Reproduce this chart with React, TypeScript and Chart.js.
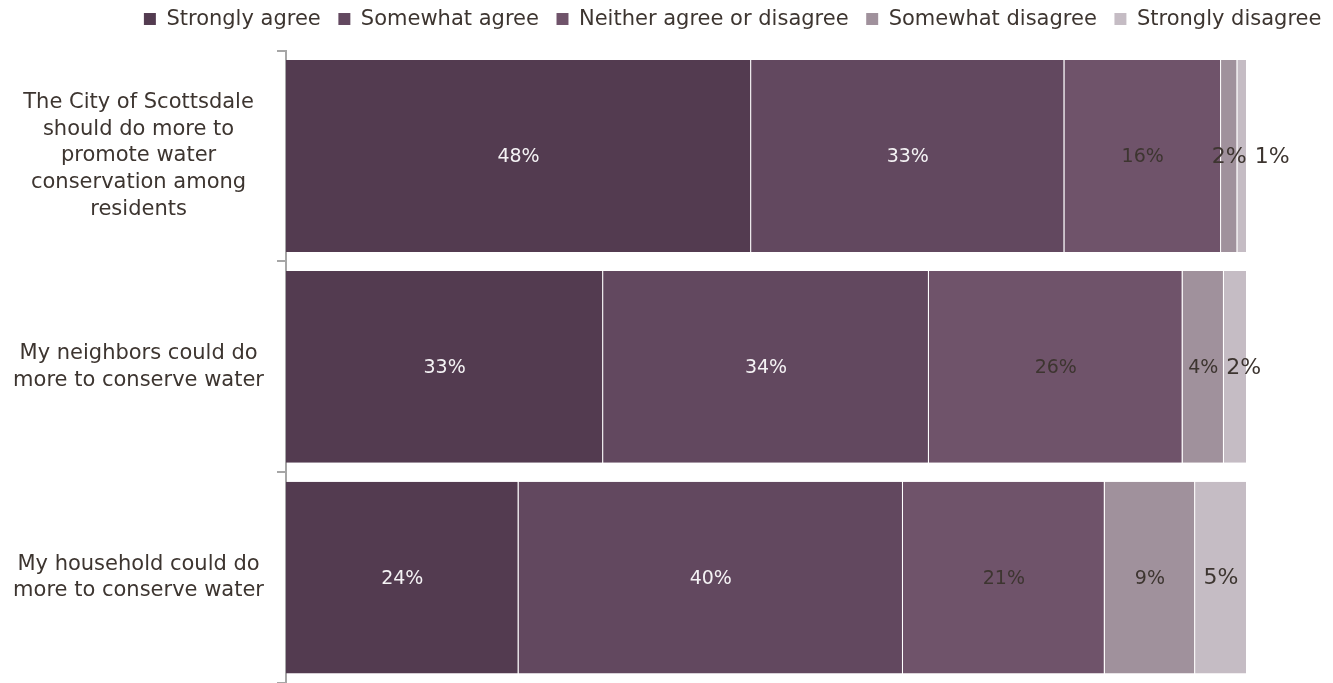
import React, { useEffect, useRef } from "react";
import { Chart, registerables } from "chart.js";

Chart.register(...registerables);

const categories: string[][] = [
  ["The City of Scottsdale", "should do more to", "promote water", "conservation among", "residents"],
  ["My neighbors could do", "more to conserve water"],
  ["My household could do", "more to conserve water"],
];

const seriesNames = [
  "Strongly agree",
  "Somewhat agree",
  "Neither agree or disagree",
  "Somewhat disagree",
  "Strongly disagree",
];

const stronglyAgree = [48.4, 33.0, 24.2];
const somewhatAgree = [32.6, 33.9, 40.0];
const neitherAgree = [16.3, 26.4, 21.0];
const somewhatDisagree = [1.7, 4.3, 9.4];
const stronglyDisagree = [1.0, 2.4, 5.4];

const seriesColors = ["#533b50", "#62485f", "#6f536a", "#a0919c", "#c5bcc4"];
const labelColors = ["#f4f2f4", "#f4f2f4", "#3d3530", "#3d3530", "#3d3530"];

const FONT = "'DejaVu Sans', sans-serif";
const TEXT = "#3d3530";

const labelPlugin = {
  id: "segLabels",
  afterDatasetsDraw(chart: any) {
    const ctx = chart.ctx;
    const n = chart.data.labels.length;
    for (let i = 0; i < n; i++) {
      let prevRight = -Infinity;
      chart.data.datasets.forEach((ds: any, d: number) => {
        const meta = chart.getDatasetMeta(d);
        const el: any = meta.data[i];
        if (!el) return;
        const v = ds.data[i];
        const big = d === 4 || v < 3;
        const size = big ? 22 : 19;
        ctx.save();
        ctx.font = `${size}px ${FONT}`;
        const text = Math.round(v) + "%";
        const w = ctx.measureText(text).width;
        const cx = (el.x + el.base) / 2;
        let left = cx - w / 2;
        if (left < prevRight + 8) left = prevRight + 8;
        ctx.fillStyle = labelColors[d];
        ctx.textAlign = "left";
        ctx.textBaseline = "middle";
        ctx.fillText(text, left, el.y + 1);
        prevRight = left + w;
        ctx.restore();
      });
    }
  },
};

const legendTweak = {
  id: "legendTweak",
  beforeInit(chart: any) {
    const legend = chart.legend;
    if (!legend) return;
    const origFit = legend.fit;
    legend.fit = function () {
      origFit.call(this);
      this.height += 2;
    };
    const origDraw = legend.draw;
    legend.draw = function (...args: any[]) {
      const ctx = this.ctx;
      ctx.save();
      ctx.translate(6, -9);
      origDraw.apply(this, args);
      ctx.restore();
    };
  },
};

export default function App() {
  const ref = useRef<HTMLCanvasElement | null>(null);
  useEffect(() => {
    document.body.style.margin = "0";
    const values = [stronglyAgree, somewhatAgree, neitherAgree, somewhatDisagree, stronglyDisagree];
    const chart = new Chart(ref.current as HTMLCanvasElement, {
      type: "bar",
      data: {
        labels: categories as any,
        datasets: seriesNames.map((name, k) => ({
          label: name,
          data: values[k],
          backgroundColor: seriesColors[k],
          borderColor: "rgba(255,255,255,0.16)",
          borderWidth: { left: 0, right: 1, top: 0, bottom: 0 },
          borderSkipped: false,
          categoryPercentage: 1,
          barPercentage: 0.91,
        })),
      },
      options: {
        indexAxis: "y",
        responsive: true,
        maintainAspectRatio: false,
        animation: false,
        layout: { padding: { right: 0, top: 0, bottom: 0, left: 0 } },
        plugins: {
          tooltip: { enabled: false },
          legend: {
            position: "top",
            align: "end",
            labels: {
              boxWidth: 12,
              boxHeight: 12,
              padding: 17.6,
              color: TEXT,
              font: { family: FONT, size: 21 },
            },
          },
        },
        scales: {
          x: {
            stacked: true,
            display: false,
            min: 0,
            max: 108.95,
          },
          y: {
            stacked: true,
            afterFit(scale: any) {
              scale.width = 286;
              scale.paddingTop = 0;
              scale.paddingBottom = 0;
            },
            grid: {
              drawOnChartArea: false,
              drawTicks: true,
              tickLength: 9,
              color: "#a6a6a6",
              lineWidth: 2,
            },
            border: { display: true, color: "#a6a6a6", width: 2 },
            ticks: {
              crossAlign: "center",
              padding: 13,
              color: TEXT,
              font: { family: FONT, size: 21, lineHeight: 1.28 },
            },
          },
        },
      },
      plugins: [labelPlugin, legendTweak],
    });
    return () => chart.destroy();
  }, []);
  return (
    <div style={{ width: 1333, height: 683, position: "relative" }}>
      <canvas ref={ref} style={{ display: "block" }} />
    </div>
  );
}
